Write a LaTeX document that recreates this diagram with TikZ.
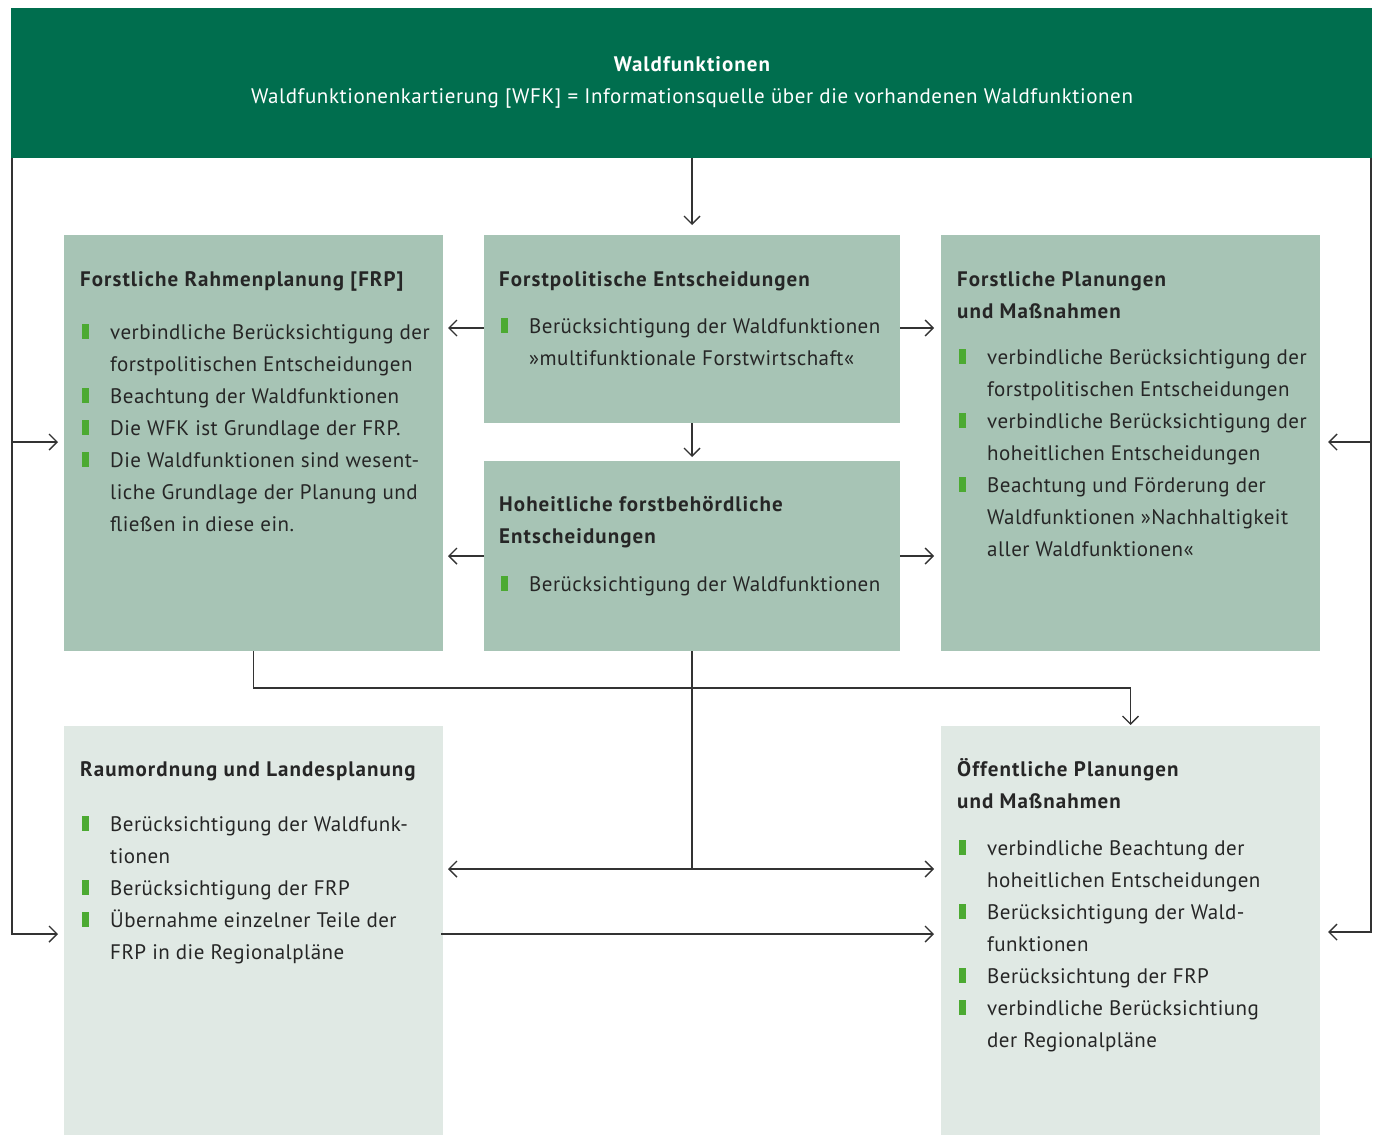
\documentclass[tikz,border=0pt]{standalone}
\usepackage{fontspec}
\setmainfont{PT Sans}[LetterSpace=2.2,BoldFeatures={LetterSpace=5}]
\usetikzlibrary{arrows.meta,calc}
\definecolor{hdrgreen}{HTML}{006E4E}
\definecolor{darkbox}{HTML}{A7C4B5}
\definecolor{lightbox}{HTML}{E0E9E4}
\definecolor{bgreen}{HTML}{4CAA32}
\definecolor{txt}{HTML}{262626}
\definecolor{linec}{HTML}{333333}
\newcommand\Bu{\makebox[28pt][l]{\textcolor{bgreen}{\rule[0.5pt]{7pt}{14.5pt}}}}
\newcommand\Co{\hspace*{28pt}}
\newcommand\bodytext[1]{\parbox[t]{440pt}{\fontsize{21}{32}\selectfont\raggedright #1}}
\newcommand\titletext[1]{\parbox[t]{440pt}{\fontsize{21}{32}\selectfont\bfseries\raggedright #1}}
\begin{document}
\begin{tikzpicture}[x=1pt,y=-1pt,
  dbox/.style={fill=darkbox,draw=none,inner sep=0pt,outer sep=0pt},
  lbox/.style={fill=lightbox,draw=none,inner sep=0pt,outer sep=0pt},
  tnode/.style={inner sep=0pt,anchor=base west,text=txt},
  conn/.style={draw=linec,line width=1.4pt},
  arr/.style={conn,-{Straight Barb[length=8pt,width=16pt,line width=1.4pt]}},
  darr/.style={conn,{Straight Barb[length=8pt,width=16pt,line width=1.4pt]}-{Straight Barb[length=8pt,width=16pt,line width=1.4pt]}}]
\useasboundingbox (0,0) rectangle (1378,1135);
% boxes
\node[fill=hdrgreen,inner sep=0pt,outer sep=0pt,minimum width=1361pt,minimum height=150pt] (hdr) at (691.5,83) {};
\node[dbox,minimum width=379pt,minimum height=416pt] (frp) at (253.5,443) {};
\node[dbox,minimum width=416pt,minimum height=188pt] (fpe) at (692,329) {};
\node[dbox,minimum width=416pt,minimum height=190pt] (hoh) at (692,556) {};
\node[dbox,minimum width=379pt,minimum height=416pt] (fpm) at (1130.5,443) {};
\node[lbox,minimum width=379pt,minimum height=409pt] (rlp) at (253.5,930.5) {};
\node[lbox,minimum width=379pt,minimum height=409pt] (oep) at (1130.5,930.5) {};
% header text
\node[inner sep=0pt,anchor=base,text=white,font=\fontsize{21}{24}\selectfont\bfseries] (hdrt) at (692,71) {Waldfunktionen};
\node[inner sep=0pt,anchor=base,text=white,font=\fontsize{21}{24}\selectfont\addfontfeature{LetterSpace=2.8}] (hdrs) at (692,103) {Waldfunktionenkartierung [WFK] = Informationsquelle über die vorhandenen Waldfunktionen};
% FRP
\node[tnode] (frpt) at (80,286) {\titletext{Forstliche Rahmenplanung [FRP]}};
\node[tnode] (frpb) at (82,339) {\bodytext{\Bu verbindliche Berücksichtigung der\\
\Co forstpolitischen Entscheidungen\\
\Bu Beachtung der Waldfunktionen\\
\Bu Die WFK ist Grundlage der FRP.\\
\Bu Die Waldfunktionen sind wesent-\\
\Co liche Grundlage der Planung und\\
\Co fließen in diese ein.}};
% Forstpolitische
\node[tnode] (fpet) at (499,286) {\titletext{Forstpolitische Entscheidungen}};
\node[tnode] (fpeb) at (501,333) {\bodytext{\Bu Berücksichtigung der Waldfunktionen\\
\Co »multifunktionale Forstwirtschaft«}};
% Hoheitliche
\node[tnode] (hoht) at (499,511) {\titletext{Hoheitliche forstbehördliche\\Entscheidungen}};
\node[tnode] (hohb) at (501,591) {\bodytext{\Bu Berücksichtigung der Waldfunktionen}};
% Forstliche Planungen
\node[tnode] (fpmt) at (957,286) {\titletext{Forstliche Planungen\\und Maßnahmen}};
\node[tnode] (fpmb) at (959,364) {\bodytext{\Bu verbindliche Berücksichtigung der\\
\Co forstpolitischen Entscheidungen\\
\Bu verbindliche Berücksichtigung der\\
\Co hoheitlichen Entscheidungen\\
\Bu Beachtung und Förderung der\\
\Co Waldfunktionen »Nachhaltigkeit\\
\Co aller Waldfunktionen«}};
% Raumordnung
\node[tnode] (rlpt) at (80,776) {\titletext{Raumordnung und Landesplanung}};
\node[tnode] (rlpb) at (82,831) {\bodytext{\Bu Berücksichtigung der Waldfunk-\\
\Co tionen\\
\Bu Berücksichtigung der FRP\\
\Bu Übernahme einzelner Teile der\\
\Co FRP in die Regionalpläne}};
% Oeffentliche
\node[tnode] (oept) at (957,776) {\titletext{Öffentliche Planungen\\und Maßnahmen}};
\node[tnode] (oepb) at (959,855) {\bodytext{\Bu verbindliche Beachtung der\\
\Co hoheitlichen Entscheidungen\\
\Bu Berücksichtigung der Wald-\\
\Co funktionen\\
\Bu Berücksichtung der FRP\\
\Bu verbindliche Berücksichtiung\\
\Co der Regionalpläne}};
% helper coordinates
\coordinate (y328) at (0,328);
\coordinate (y556) at (0,556);
\coordinate (y442) at (0,442);
\coordinate (y688) at (0,688);
\coordinate (y869) at (0,869);
\coordinate (y934) at (0,934);
\coordinate (y932) at (0,932);
\coordinate (xl) at (12,0);
\coordinate (xr) at (1371,0);
% connectors
\draw[arr,shorten >=10pt] (hdr.south -| fpe.north) -- (fpe.north);
\draw[arr,shorten >=4pt] (fpe.south) -- (hoh.north);
\draw[arr,shorten >=5pt] (fpe.west |- y328) -- (frp.east |- y328);
\draw[arr,shorten >=7pt] (fpe.east |- y328) -- (fpm.west |- y328);
\draw[arr,shorten >=5pt] (hoh.west |- y556) -- (frp.east |- y556);
\draw[arr,shorten >=7pt] (hoh.east |- y556) -- (fpm.west |- y556);
\draw[arr,shorten >=1pt] (frp.south) -- (frp.south |- y688) -| (oep.north);
\draw[conn] (hoh.south) -- (hoh.south |- y869);
\draw[darr,shorten <=5pt,shorten >=7pt] (rlp.east |- y869) -- (oep.west |- y869);
\draw[arr,shorten >=7pt] ([xshift=-2pt]rlp.east |- y934) -- (oep.west |- y934);
\draw[arr,shorten >=6pt] (hdr.south -| xl) |- (rlp.west |- y934);
\draw[arr,shorten >=6pt] (xl |- y442) -- (frp.west |- y442);
\draw[arr,shorten >=8pt] (hdr.south -| xr) |- (oep.east |- y932);
\draw[arr,shorten >=8pt] (xr |- y442) -- (fpm.east |- y442);
\end{tikzpicture}
\end{document}
